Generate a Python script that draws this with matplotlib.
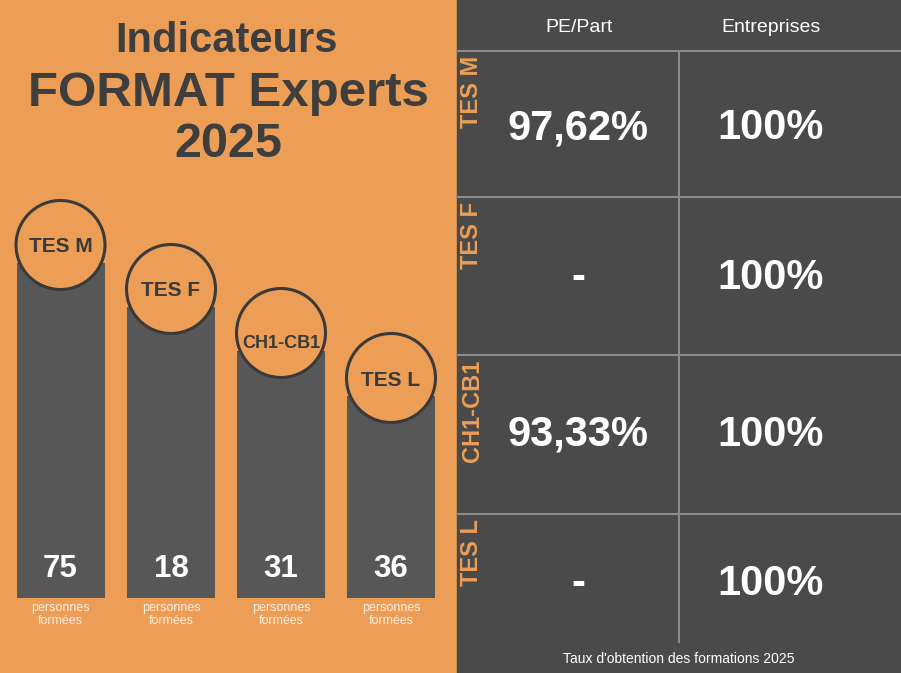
import matplotlib
matplotlib.use("Agg")
import matplotlib.pyplot as plt
from matplotlib.patches import Circle, Rectangle

plt.rcParams['font.family'] = ['Liberation Sans', 'DejaVu Sans']

# ---- data ----
programs = ["TES M", "TES F", "CH1-CB1", "TES L"]
people_trained = [75, 18, 31, 36]
bar_levels = [335, 291, 247, 202]          # decorative bar heights (px)
pe_part_rates = ["97,62%", "-", "93,33%", "-"]
company_rates = ["100%", "100%", "100%", "100%"]
col_headers = ["PE/Part", "Entreprises"]
title_lines = ["Indicateurs", "FORMAT Experts", "2025"]
footer = "Taux d'obtention des formations 2025"
sub_label = "personnes\nformées"

ORANGE = "#EC9E56"
DARK_PANEL = "#4A4A4A"
BAR = "#575757"
TITLE = "#3E3E3E"
LINE = "#8C8C8C"

W, H = 901, 673
fig = plt.figure(figsize=(W / 100, H / 100), dpi=100)
ax = fig.add_axes([0, 0, 1, 1])
ax.set_xlim(0, W)
ax.set_ylim(0, H)
ax.axis("off")

def Y(p):  # pixel row -> data y
    return H - p

# backgrounds
ax.add_patch(Rectangle((0, 0), 457, H, color=ORANGE, zorder=0))
ax.add_patch(Rectangle((457, 0), W - 457, H, color=DARK_PANEL, zorder=0))

# title
ax.text(227, Y(52), title_lines[0], ha="center", va="baseline", fontsize=30,
        fontweight="bold", color=TITLE)
ax.text(228, Y(106), title_lines[1], ha="center", va="baseline", fontsize=35.5,
        fontweight="bold", color=TITLE)
ax.text(228, Y(157), title_lines[2], ha="center", va="baseline", fontsize=35,
        fontweight="bold", color=TITLE)

# bars
centers = [60.5, 171, 281, 391]
bar_w = 88
bottom = Y(598)
ax.bar(centers, bar_levels, width=bar_w, bottom=bottom, color=BAR, zorder=2)

label_sizes = [15, 15, 13, 15]
label_dy = [2, 1, 11, 2]
for cx, h, name, n, fs, dy in zip(centers, bar_levels, programs, people_trained,
                                  label_sizes, label_dy):
    top = bottom + h
    cy = top + 18
    ax.add_patch(Circle((cx, cy), 44.5, facecolor=ORANGE, edgecolor="#3A3A3A",
                        linewidth=2.2, zorder=3))
    ax.text(cx, cy - dy, name, ha="center", va="center", fontsize=fs,
            fontweight="bold", color="#3A3A3A", zorder=4)
    ax.text(cx, Y(569), str(n), ha="center", va="center", fontsize=22.5,
            fontweight="bold", color="white", zorder=4)
    ax.text(cx, Y(614.5), sub_label, ha="center", va="center", fontsize=9,
            color="#FDEEDF", linespacing=1.0, zorder=4)

# right table
hlines = [51, 197, 355, 514]
for hy in hlines:
    ax.plot([457, W], [Y(hy)] * 2, color=LINE, lw=1.5, zorder=1)
ax.plot([679, 679], [Y(51), Y(642)], color=LINE, lw=1.5, zorder=1)

ax.text(579, Y(27), col_headers[0], ha="center", va="center", fontsize=14, color="white")
ax.text(771, Y(27), col_headers[1], ha="center", va="center", fontsize=14, color="white")

row_bounds = [(51, 197), (197, 355), (355, 514), (514, 642)]
value_y = [128, 278, 435, 584]
for (t, b), name, v1, v2, vy in zip(row_bounds, programs, pe_part_rates,
                                    company_rates, value_y):
    ax.text(472, Y(t + 5), name, ha="center", va="top", rotation=90,
            fontsize=17, fontweight="bold", color=ORANGE)
    ax.text(578, Y(vy), v1, ha="center", va="center", fontsize=30,
            fontweight="bold", color="white")
    ax.text(771, Y(vy), v2, ha="center", va="center", fontsize=30,
            fontweight="bold", color="white")

ax.text(679, Y(659), footer, ha="center", va="center", fontsize=10, color="white")

fig.savefig("out.png", dpi=100)
